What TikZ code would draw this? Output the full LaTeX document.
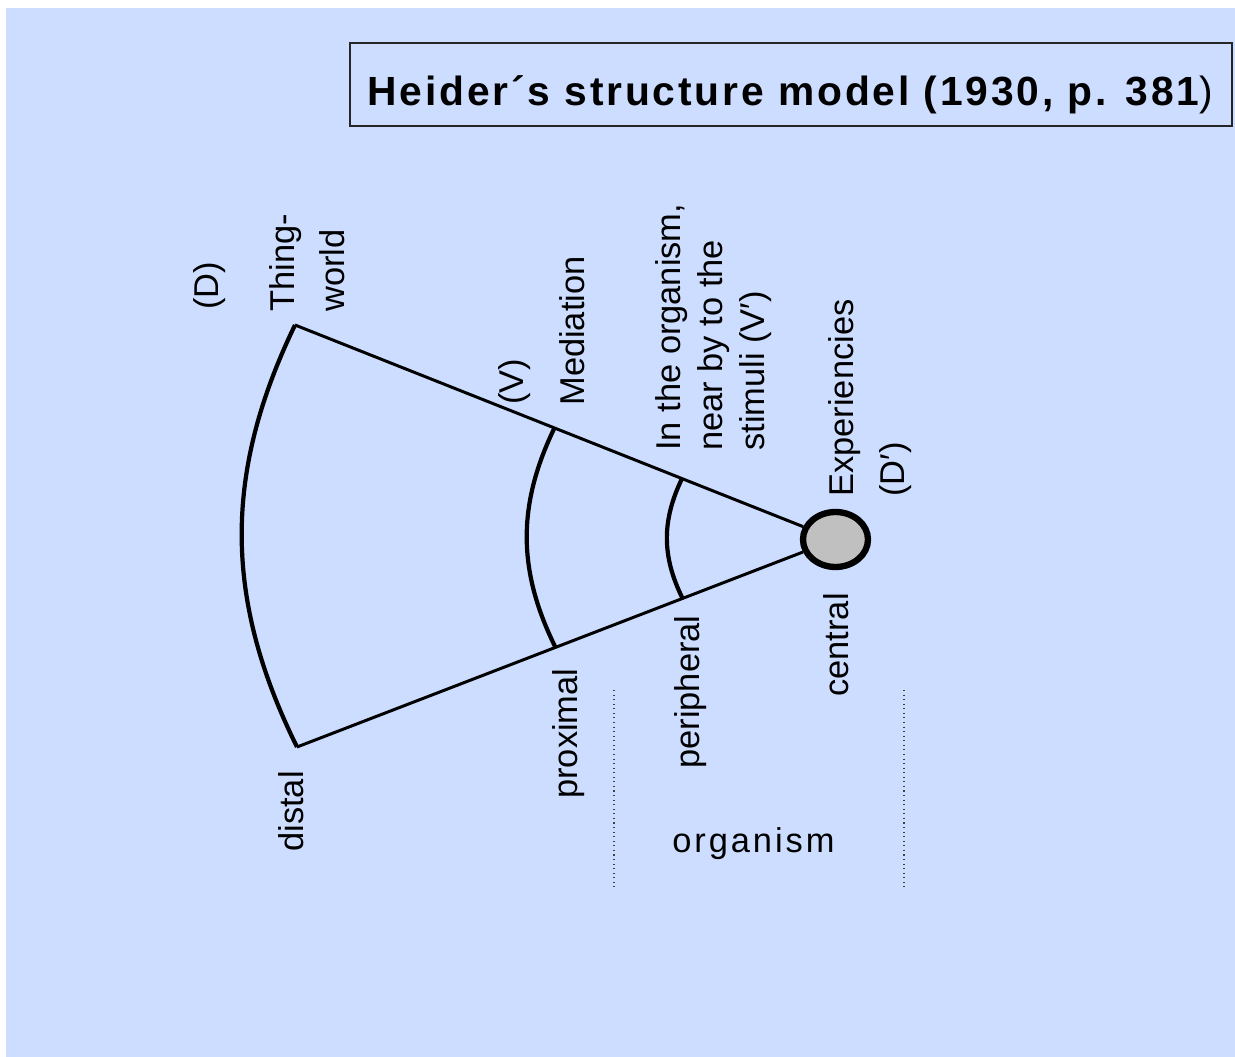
\documentclass[tikz,border=0pt]{standalone}
\usepackage{fontspec}
\setmainfont{Liberation Sans}
\newfontfamily\headfont[LetterSpace=7]{Liberation Sans}
\newfontfamily\spacedfont[LetterSpace=8.5]{Liberation Sans}
\usetikzlibrary{calc,positioning,shapes.geometric}
\definecolor{slidebg}{RGB}{204,221,255}
\definecolor{knob}{RGB}{192,192,192}
\tikzset{
  beam/.style={line width=1.7pt, black},
  zone/.style={line width=2.4pt, black, bend right=26},
  tag/.style={rotate=90, anchor=north west, inner sep=0pt, align=left, font=\fontsize{19.6}{23.5}\selectfont},
  fence/.style={dotted, line width=0.6pt, black!75},
  headbox/.style={draw=black!85, line width=0.85pt},
  centre/.style={ellipse, draw=black, line width=3.6pt, fill=knob, inner sep=0pt, minimum width=1.3cm, minimum height=1.1cm}
}

\begin{document}
\begin{tikzpicture}[x=0.02cm, y=-0.02cm]
  \useasboundingbox (0,0) rectangle (1235,1057);
  \fill[slidebg] (6,8) rectangle (1235,1057);
  \draw[headbox] (350,43) rectangle (1232,126);
  \node[anchor=base west, inner sep=0pt, font=\headfont\bfseries\fontsize{23.2}{28}\selectfont] (title) at (367,106) {Heider´s structure model (1930, p. 381{\mdseries )}};

  \coordinate (tw) at (295,325);
  \coordinate (dist) at (297,747);
  \node[centre] (exp) at (835.5,539.5) {};
  \draw[beam] (tw) -- (exp);
  \draw[beam] (dist) -- (exp);
  \coordinate (medtop) at ($(tw)!0.48!(exp.center)$);
  \coordinate (medbot) at ($(dist)!0.48!(exp.center)$);
  \coordinate (pertop) at ($(tw)!0.716!(exp.center)$);
  \coordinate (perbot) at ($(dist)!0.716!(exp.center)$);
  \draw[zone] (tw) to (dist);
  \draw[zone] (medtop) to (medbot);
  \draw[zone] (pertop) to (perbot);

  \node[tag] (dee) at (193,310) {(D)};
  \node[tag, font=\fontsize{19.6}{28.3}\selectfont] (thing) at (269,312) {Thing-\\world};
  \node[tag] (vee) at (498,405) {(V)};
  \node[tag] (med) at (559,406) {Mediation};
  \node[tag, font=\fontsize{19.6}{24.1}\selectfont] (near) at (655,451) {In the organism,\\near by to the\\stimuli (V′)};
  \node[tag, font=\fontsize{19.6}{28.9}\selectfont] (expr) at (828,497) {Experiencies\\(D′)};
  \node[tag] (distal) at (278,852) {distal};
  \node[tag] (prox) at (552,799) {proximal};
  \node[tag] (peri) at (674,769) {peripheral};
  \node[tag] (cent) at (823,697) {central};

  \draw[fence] (614,690) -- (614,887);
  \draw[fence] (904,690) -- (904,887);
  \node[anchor=base west, inner sep=0pt, font=\spacedfont\fontsize{19.6}{23.5}\selectfont] (org) at (672,852) {organism};
\end{tikzpicture}
\end{document}
